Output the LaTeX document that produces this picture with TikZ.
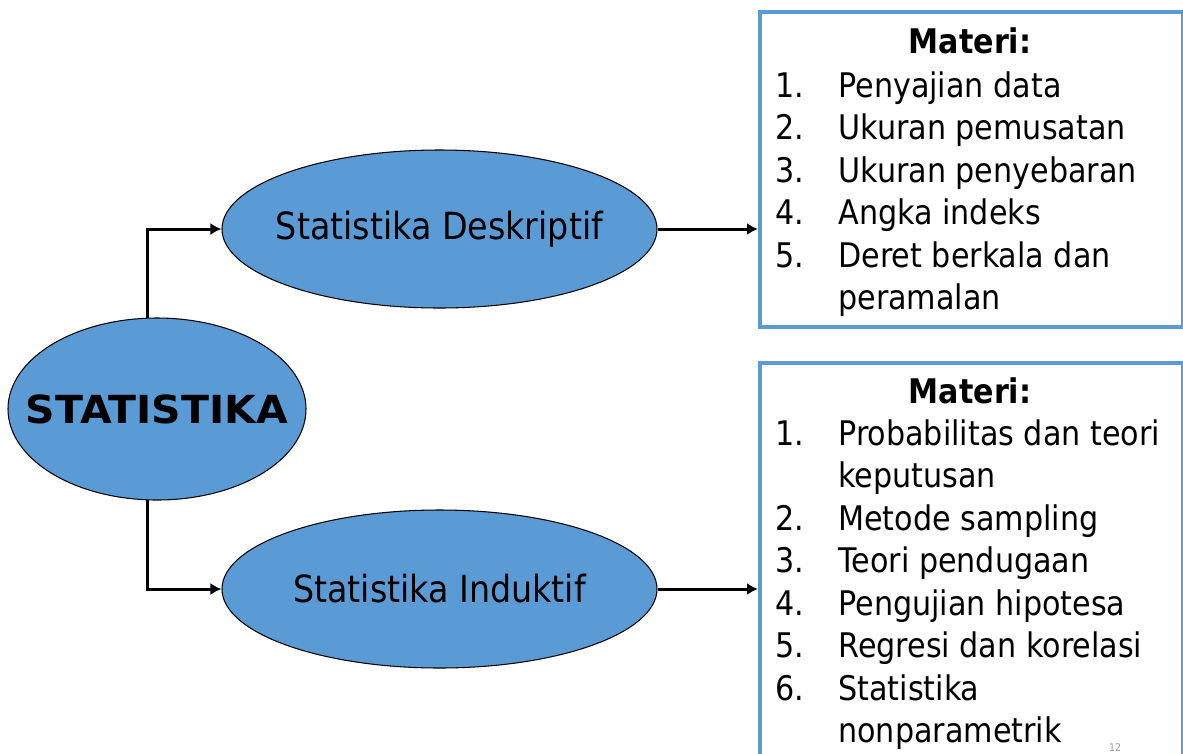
\documentclass[tikz,border=0pt]{standalone}
\usepackage{fontspec}
\setmainfont{DejaVu Sans}[FakeStretch=0.89]
\newfontfamily\headfont{DejaVu Sans}[FakeStretch=1.06]
\usetikzlibrary{shapes.geometric,arrows.meta}
\definecolor{blobblue}{HTML}{5B9BD5}
\definecolor{pagegray}{HTML}{9A9A9A}
\tikzset{
  blob/.style={ellipse, draw=black, line width=0.6pt, fill=blobblue, inner sep=0pt},
  listbox/.style={rectangle, draw=blobblue, line width=2pt, anchor=north west},
  conn/.style={line width=1.7pt, -{Latex[length=2.2mm,width=2.4mm]}}
}
\newcommand{\listfont}{\fontsize{19.3}{24.2}\selectfont}
\newcommand{\blobtext}[1]{\makebox[0pt]{#1}}
\begin{document}
\begin{tikzpicture}
	  \useasboundingbox (0,0) rectangle (23.66,-15.06);
	  \clip (0,0) rectangle (23.66,-15.06);
	  \fill[white] (0,0) rectangle (23.66,-15.06);
	  
	  \node[blob, minimum width=5.96cm, minimum height=3.64cm] (stat) at (3.14,-8.18) {\blobtext{\headfont\bfseries\fontsize{22}{26}\selectfont STATISTIKA}};
	  \node[blob, minimum width=8.7cm, minimum height=3.16cm] (desk) at (8.79,-4.58) {\blobtext{\fontsize{21.3}{25}\selectfont Statistika Deskriptif}};
	  \node[blob, minimum width=8.7cm, minimum height=3.16cm] (ind) at (8.79,-11.78) {\blobtext{\fontsize{21.3}{25}\selectfont Statistika Induktif}};
	  
	  \node[listbox, minimum width=8.46cm, minimum height=6.3cm] (box1) at (15.16,-0.2) {};
	  \node[listbox, minimum width=8.46cm, minimum height=8.4cm] (box2) at (15.16,-7.22) {};
	  
	  \node[anchor=base, inner sep=0pt] (mat1) at (19.40,-1.06) {\listfont\bfseries Materi:};
	  \node[anchor=base west, inner sep=0pt] (list1) at (15.5,-1.94) {\listfont
	    \begin{tabular}[t]{@{}p{1.26cm}@{}l@{}}
	    1. & Penyajian data\\
	    2. & Ukuran pemusatan\\
	    3. & Ukuran penyebaran\\
	    4. & Angka indeks\\
	    5. & Deret berkala dan\\
	       & peramalan
	    \end{tabular}};
	  
	  \node[anchor=base, inner sep=0pt] (mat2) at (19.40,-8.06) {\listfont\bfseries Materi:};
	  \node[anchor=base west, inner sep=0pt] (list2) at (15.5,-8.9) {\listfont
	    \begin{tabular}[t]{@{}p{1.26cm}@{}l@{}}
	    1. & Probabilitas dan teori\\
	       & keputusan\\
	    2. & Metode sampling\\
	    3. & Teori pendugaan\\
	    4. & Pengujian hipotesa\\
	    5. & Regresi dan korelasi\\
	    6. & Statistika\\
	       & nonparametrik
	    \end{tabular}};
	  
	  \node[anchor=base, inner sep=0pt, text=pagegray] (page) at (22.3,-15.02) {\fontsize{6}{7}\selectfont 12};
	  
	  \draw[conn] (stat.96) |- (desk.west);
	  \draw[conn] (stat.264) |- (ind.west);
	  \draw[conn] (desk.east) -- (desk.east -| box1.west);
	  \draw[conn] (ind.east) -- (ind.east -| box2.west);
	\end{tikzpicture}
\end{document}
